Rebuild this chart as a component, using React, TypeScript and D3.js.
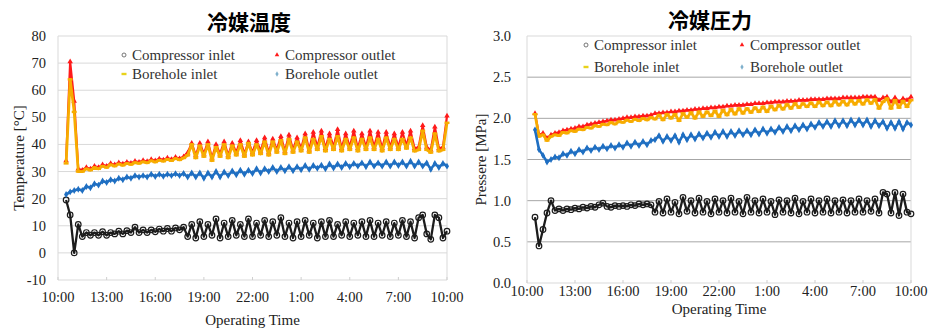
import * as d3 from 'd3';

// sample times, hours after 10:00 (every 15 min from 10:30)
const SAMPLE_HOURS = d3.range(0.5, 24.001, 0.25);

const TIME_TICKS = [0, 3, 6, 9, 12, 15, 18, 21, 24];
const TIME_LABELS = ['10:00', '13:00', '16:00', '19:00', '22:00', '1:00', '4:00', '7:00', '10:00'];
const TEMP_TICKS = [-10, 0, 10, 20, 30, 40, 50, 60, 70, 80];
const PRES_TICKS = [0, 0.5, 1.0, 1.5, 2.0, 2.5, 3.0];

const SERIES_NAMES = ['Compressor inlet', 'Compressor outlet', 'Borehole inlet', 'Borehole outlet'];

// Refrigerant temperature [°C]
const T_COMP_IN = [
  19.5, 14, 0, 10.5, 6, 7.5, 6.5, 7.5, 6.5, 7.8,
  6.5, 7.5, 7, 8, 7, 8.2, 7.5, 9.5, 7.5, 8.5,
  7.5, 8.5, 7.8, 8.8, 8, 9, 8, 9.2, 8.5, 9.5,
  6, 10.5, 5.5, 11.5, 6, 10.5, 6.5, 12.5, 5.5, 11,
  6, 12, 6.5, 10.5, 6, 12.5, 6, 11, 6.5, 12,
  6, 11.5, 6.5, 13, 6, 11, 5.5, 11.5, 6, 12,
  6.5, 11, 5.5, 11.5, 6, 12, 6, 10.5, 6.5, 11.5,
  6, 11, 6.5, 11.5, 6, 12, 6, 11, 6.5, 11.5,
  6, 11, 6.5, 12, 6, 11.5, 5.5, 13, 14, 7,
  5, 14, 13, 5.5, 8,
];
const T_COMP_OUT = [
  34, 70.5, 56, 31, 30.5, 31.5, 31, 32, 31.5, 32.5,
  32, 33, 32.5, 33.3, 32.8, 33.5, 33.1, 33.8, 33.5, 34.1,
  33.7, 34.5, 34, 34.7, 34.3, 35, 34.5, 35.3, 34.8, 35.5,
  37, 40.5, 36, 40.5, 36.5, 41, 35, 40, 36.5, 41,
  36, 40.5, 37, 41.5, 36.5, 41, 37, 41.5, 37.5, 42.5,
  37, 42, 38, 43, 37.5, 43.5, 38, 42.5, 38.5, 44,
  38, 44.5, 39, 45, 38.5, 44, 39, 45.5, 38.5, 44,
  39, 45, 38.5, 44, 39, 45, 39, 44.5, 38.5, 44.5,
  39, 44, 39, 44.5, 39.5, 45, 38.5, 39, 47, 39,
  38, 46.5, 38.5, 39, 50.5,
];
const T_BORE_IN = [
  33, 64, 52, 30, 30, 31, 30.5, 31.5, 31, 32,
  31.5, 32.5, 32, 32.8, 32.3, 33, 32.6, 33.3, 33, 33.6,
  33.2, 34, 33.5, 34.2, 33.8, 34.5, 34, 34.8, 34.3, 35,
  36, 40, 35, 39.5, 35.5, 40, 34, 39, 35.5, 40,
  35, 39.5, 36, 40, 35.5, 40.5, 36, 40, 36.5, 41,
  36, 41, 37, 41.5, 36.5, 42, 37, 41, 37.5, 42.5,
  37, 42, 38, 43, 37.5, 42, 38, 43, 37.5, 42,
  38, 42.5, 37.5, 42, 38, 42.5, 38, 42, 37.5, 42.5,
  38, 42, 38, 42, 38.5, 42.5, 37.5, 38, 45, 38,
  37, 44, 37.5, 38, 48,
];
const T_BORE_OUT = [
  21.5, 22.5, 23, 23.5, 23, 24.5, 24, 25.5, 25, 26.5,
  26, 27, 26.5, 27.5, 27, 28, 27.5, 28.5, 28, 28.5,
  28, 29, 28.2, 29, 28.3, 29, 28.5, 29.2, 28.5, 29.3,
  28, 29.5, 28, 29.5, 27.5, 29.5, 28, 30, 28, 29.8,
  28.5, 30.2, 28.8, 30.5, 29, 30.5, 29.3, 31, 29.5, 31,
  30, 31.5, 30, 31.5, 30.3, 31.8, 30.3, 31.8, 30.7, 32.2,
  30.8, 32.2, 31.2, 32.3, 31, 32.8, 31.3, 32.8, 31.5, 33,
  31.8, 33, 32, 33.2, 31.8, 33.5, 32, 33.2, 32, 33.5,
  32, 33.5, 32.2, 33.5, 32, 33.8, 32, 33.5, 32, 33.2,
  30.8, 33, 31.5, 33, 32,
];

// Refrigerant pressure [MPa]
const P_COMP_IN = [
  0.8, 0.45, 0.65, 0.85, 1.0, 0.88, 0.9, 0.88, 0.9, 0.89,
  0.91, 0.9, 0.92, 0.91, 0.93, 0.92, 0.95, 0.97, 0.93, 0.92,
  0.94, 0.93, 0.94, 0.93, 0.95, 0.94, 0.96, 0.95, 0.96, 0.95,
  0.86, 0.99, 0.85, 1.02, 0.86, 0.98, 0.84, 1.04, 0.87, 1.0,
  0.85, 1.03, 0.86, 0.99, 0.84, 1.02, 0.86, 1.0, 0.85, 1.03,
  0.86, 0.99, 0.84, 1.04, 0.86, 1.0, 0.85, 1.02, 0.86, 0.99,
  0.83, 1.01, 0.86, 1.0, 0.85, 1.03, 0.84, 0.99, 0.86, 1.02,
  0.85, 1.0, 0.86, 1.02, 0.85, 1.0, 0.86, 1.01, 0.85, 1.0,
  0.86, 1.02, 0.86, 1.0, 0.87, 1.02, 0.85, 1.1, 1.08, 0.85,
  1.1, 0.82, 1.08, 0.86, 0.84,
];
const P_COMP_OUT = [
  2.06, 1.8, 1.82, 1.76, 1.8, 1.82, 1.83, 1.85, 1.86, 1.87,
  1.88, 1.9, 1.9, 1.92, 1.93, 1.94, 1.95, 1.96, 1.97, 1.98,
  1.98, 1.99, 2.0, 2.01, 2.01, 2.02, 2.02, 2.03, 2.03, 2.04,
  2.06, 2.06, 2.07, 2.07, 2.08, 2.08, 2.09, 2.09, 2.1, 2.1,
  2.11, 2.11, 2.12, 2.12, 2.13, 2.13, 2.14, 2.14, 2.15, 2.15,
  2.16, 2.16, 2.16, 2.17, 2.17, 2.18, 2.18, 2.18, 2.19, 2.19,
  2.2, 2.2, 2.2, 2.21, 2.21, 2.21, 2.22, 2.22, 2.22, 2.23,
  2.23, 2.23, 2.23, 2.24, 2.24, 2.24, 2.24, 2.25, 2.25, 2.25,
  2.25, 2.25, 2.26, 2.26, 2.26, 2.26, 2.22, 2.25, 2.26, 2.2,
  2.25, 2.2, 2.24, 2.22, 2.26,
];
const P_BORE_IN = [
  2.05, 1.78, 1.8, 1.73, 1.78, 1.8, 1.79, 1.83, 1.82, 1.85,
  1.84, 1.87, 1.86, 1.89, 1.88, 1.91, 1.9, 1.93, 1.92, 1.95,
  1.93, 1.96, 1.95, 1.98, 1.96, 1.99, 1.97, 2.0, 1.98, 2.01,
  1.99, 2.04, 1.98, 2.05, 2.0, 2.05, 1.97, 2.06, 2.01, 2.07,
  2.0, 2.08, 2.02, 2.08, 2.03, 2.09, 2.02, 2.1, 2.04, 2.11,
  2.05, 2.12, 2.06, 2.12, 2.07, 2.13, 2.08, 2.14, 2.08, 2.15,
  2.1, 2.16, 2.11, 2.17, 2.12, 2.18, 2.13, 2.18, 2.14, 2.19,
  2.14, 2.2, 2.15, 2.2, 2.15, 2.21, 2.16, 2.21, 2.16, 2.22,
  2.17, 2.22, 2.17, 2.23, 2.18, 2.23, 2.12, 2.2, 2.24, 2.12,
  2.22, 2.13, 2.21, 2.14, 2.22,
];
const P_BORE_OUT = [
  1.86, 1.62, 1.55, 1.47, 1.5, 1.53, 1.52, 1.57, 1.55, 1.6,
  1.57, 1.62, 1.59, 1.64, 1.61, 1.65, 1.62, 1.66, 1.63, 1.67,
  1.64, 1.68, 1.65, 1.7, 1.66, 1.71, 1.67, 1.72, 1.68, 1.73,
  1.74, 1.79, 1.72, 1.78, 1.73, 1.79, 1.71, 1.8, 1.74, 1.8,
  1.75, 1.81, 1.76, 1.82, 1.77, 1.83, 1.78, 1.84, 1.78, 1.84,
  1.79, 1.85, 1.8, 1.85, 1.8, 1.86, 1.81, 1.87, 1.82, 1.87,
  1.83, 1.89, 1.84, 1.9, 1.85, 1.91, 1.86, 1.92, 1.87, 1.93,
  1.89, 1.95, 1.9, 1.96, 1.9, 1.97, 1.91, 1.97, 1.91, 1.98,
  1.92, 1.98, 1.92, 1.98, 1.9, 1.97, 1.91, 1.96, 1.88, 1.95,
  1.88, 1.96, 1.87, 1.95, 1.92,
];

const COLORS = ['#1c1c1c', '#ff1a1a', '#f7ac00', '#1f6fc2'];
const KINDS = ['circle', 'triangle', 'dash', 'diamond'];
const WIDTHS = [2.3, 2.2, 2.8, 2.6];
const SERIF = '"Liberation Serif", "Times New Roman", serif';
const CJK = '"Noto Sans CJK JP", "Noto Sans CJK SC", sans-serif';

const triPath = d3.symbol(d3.symbolTriangle, 13)() ?? '';
const triSmall = d3.symbol(d3.symbolTriangle, 9)() ?? '';
const diaPath = d3.symbol(d3.symbolDiamond, 14)() ?? '';
const diaSmall = d3.symbol(d3.symbolDiamond, 9)() ?? '';

function Marker({ kind, x, y, color, legend }: { kind: string; x: number; y: number; color: string; legend?: boolean }) {
  if (kind === 'circle') {
    return <circle cx={x} cy={y} r={legend ? 2 : 2.8} fill="none" stroke={legend ? '#666' : color} strokeWidth={legend ? 0.9 : 1.2} />;
  }
  if (kind === 'triangle') {
    return <path d={legend ? triSmall : triPath} transform={`translate(${x},${y})`} fill={color} />;
  }
  if (kind === 'dash') {
    return <line x1={x - 2.5} x2={x + 2.5} y1={y} y2={y} stroke={legend ? '#e8d21a' : color} strokeWidth={2.4} />;
  }
  return <path d={legend ? diaSmall : diaPath} transform={`translate(${x},${y})`} fill={legend ? '#7fb0cc' : color} />;
}

interface PanelProps {
  left: number; right: number; top: number; bottom: number;
  domain: [number, number];
  ticks: number[];
  fmt: (v: number) => string;
  title: string; titleX: number; titleY: number;
  yLabel: string; yLabelX: number;
  tickX: number; xLabelY: number; xTitleY: number;
  legendX: [number, number]; legendY: [number, number];
  grid: string;
  series: number[][];
}

function Panel(p: PanelProps) {
  const x = d3.scaleLinear().domain([0, 24]).range([p.left, p.right]);
  const y = d3.scaleLinear().domain(p.domain).range([p.bottom, p.top]);
  const line = d3.line<number>().x((_, i) => x(SAMPLE_HOURS[i])).y(v => y(v));
  const midY = (p.top + p.bottom) / 2;
  const midX = (p.left + p.right) / 2;

  return (
    <g>
      <text x={p.titleX} y={p.titleY} textAnchor="middle" fontFamily={CJK} fontWeight={700} fontSize={21} fill="#000">
        {p.title}
      </text>

      {/* grid */}
      {p.ticks.map(t => (
        <line key={t} x1={p.left} x2={p.right} y1={y(t)} y2={y(t)}
          stroke={t === p.domain[0] || t === p.domain[1] ? '#d9d9d9' : p.grid} strokeWidth={1} />
      ))}
      <line x1={p.left} x2={p.left} y1={p.top} y2={p.bottom} stroke="#d9d9d9" />
      <line x1={p.right} x2={p.right} y1={p.top} y2={p.bottom} stroke="#d9d9d9" />
      {TIME_TICKS.map(t => (
        <line key={t} x1={x(t)} x2={x(t)} y1={p.bottom} y2={p.bottom - 3} stroke="#cfcfcf" />
      ))}

      {/* y ticks */}
      {p.ticks.map(t => (
        <text key={t} x={p.tickX} y={y(t) + 5} textAnchor="end" fontFamily={SERIF} fontSize={14.5} fill="#222">
          {p.fmt(t)}
        </text>
      ))}
      {/* x ticks */}
      {TIME_TICKS.map((t, i) => (
        <text key={t} x={x(t)} y={p.xLabelY} textAnchor="middle" fontFamily={SERIF} fontSize={14.5} fill="#222">
          {TIME_LABELS[i]}
        </text>
      ))}
      <text x={midX} y={p.xTitleY} textAnchor="middle" fontFamily={SERIF} fontSize={15} fill="#222">Operating Time</text>
      <text transform={`translate(${p.yLabelX},${midY}) rotate(-90)`} textAnchor="middle" dominantBaseline="central"
        fontFamily={SERIF} fontSize={15} fill="#222">
        {p.yLabel}
      </text>

      {/* series: compressor inlet, compressor outlet, borehole inlet, borehole outlet */}
      {p.series.map((vals, si) => (
        <g key={si}>
          <path d={line(vals) ?? ''} fill="none" stroke={COLORS[si]} strokeWidth={WIDTHS[si]}
            strokeLinejoin="round" />
          {vals.map((v, i) => (
            <Marker key={i} kind={KINDS[si]} x={x(SAMPLE_HOURS[i])} y={y(v)} color={COLORS[si]} />
          ))}
        </g>
      ))}

      {/* legend */}
      {SERIES_NAMES.map((name, i) => {
        const lx = p.legendX[i % 2];
        const ly = p.legendY[Math.floor(i / 2)];
        return (
          <g key={name}>
            <Marker kind={KINDS[i]} x={lx} y={ly} color={COLORS[i]} legend />
            <text x={lx + 8} y={ly + 5} fontFamily={SERIF} fontSize={15} fill="#333">{name}</text>
          </g>
        );
      })}
    </g>
  );
}

export default function App() {
  return (
    <svg width={928} height={328} style={{ position: 'absolute', left: 0, top: 0, background: '#fff' }}>
      <rect width={928} height={328} fill="#fff" />
      <Panel
        left={58} right={447} top={36} bottom={280}
        domain={[-10, 80]} ticks={TEMP_TICKS} fmt={v => String(v)}
        title="冷媒温度" titleX={249} titleY={30}
        yLabel="Temperature [°C]" yLabelX={19}
        tickX={46} xLabelY={302} xTitleY={325}
        legendX={[124, 277]} legendY={[55, 74]}
        grid="#d9d9d9"
        series={[T_COMP_IN, T_COMP_OUT, T_BORE_IN, T_BORE_OUT]}
      />
      <Panel
        left={527} right={911} top={36} bottom={283}
        domain={[0, 3]} ticks={PRES_TICKS} fmt={v => v.toFixed(1)}
        title="冷媒圧力" titleX={710} titleY={28}
        yLabel="Pressere [MPa]" yLabelX={481}
        tickX={511} xLabelY={296} xTitleY={314}
        legendX={[586, 742]} legendY={[45, 67]}
        grid="#a6a6a6"
        series={[P_COMP_IN, P_COMP_OUT, P_BORE_IN, P_BORE_OUT]}
      />
    </svg>
  );
}
